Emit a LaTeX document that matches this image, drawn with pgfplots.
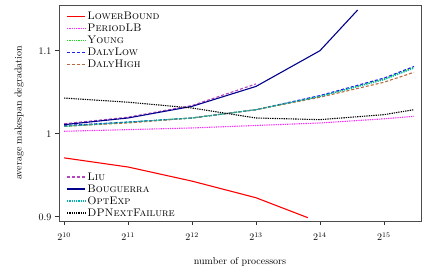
\documentclass[border=0pt]{standalone}
\usepackage{pgfplots}
\pgfplotsset{compat=1.18}
\definecolor{cRed}{RGB}{255,0,0}
\definecolor{cMag}{RGB}{255,40,255}
\definecolor{cGreen}{RGB}{30,220,30}
\definecolor{cBlue}{RGB}{30,30,240}
\definecolor{cBrown}{RGB}{185,105,60}
\definecolor{cLiu}{RGB}{180,70,190}
\definecolor{cNavy}{RGB}{0,0,140}
\definecolor{cTeal}{RGB}{0,180,180}
\pgfplotsset{
  dots/.style={dash pattern=on 1.3pt off 1pt},
  common/.style={
    at={(59pt,53pt)}, anchor=south west,
    width=362pt, height=216pt, scale only axis,
    xmin=9.92, xmax=15.58, ymin=0.895, ymax=1.155,
    legend cell align=left,
    legend style={draw=none, fill=none, font=\fontsize{11}{13}\selectfont,
      text=black, row sep=0.5pt, inner sep=1pt,
      nodes={text height=7.5pt, text depth=1pt, inner sep=1.5pt}},
    legend image code/.code={\draw[##1, line width=1.1pt] (0cm,0cm) -- (0.65cm,0cm);},
  }
}
\begin{document}
\begin{tikzpicture}
\useasboundingbox (0,0) rectangle (429pt,274pt);
\begin{axis}[common,
  axis line style={draw=black!70, line width=0.8pt},
  tick align=outside, tick style={black!80, line width=0.8pt},
  major tick length=4pt,
  xtick={10,11,12,13,14,15},
  xticklabels={$2^{10}$,$2^{11}$,$2^{12}$,$2^{13}$,$2^{14}$,$2^{15}$},
  ytick={0.9,1,1.1},
  yticklabels={0.9,1,1.1},
  xtick pos=bottom, ytick pos=left,
  tick label style={font=\normalsize},
  xticklabel style={yshift=-4pt},
  xlabel={number of processors},
  ylabel={average makespan degradation},
  label style={font=\normalsize},
  xlabel style={at={(axis description cs:0.5,-0.19)}, anchor=center},
  ylabel style={at={(axis description cs:-0.11,0.5)}, anchor=center},
  legend style={at={(axis description cs:0.017,0.981)}, anchor=north west},
]
\addplot[draw=cRed, line width=1.1pt] coordinates {(10,0.971) (11,0.960) (12,0.943) (13,0.923) (13.81,0.899)};
\addlegendentry{\textsc{LowerBound}}
\addplot[draw=cMag, line width=1.1pt, dots] coordinates {(10,1.003) (11,1.005) (12,1.007) (13,1.010) (14,1.013) (15,1.018) (15.47,1.021)};
\addlegendentry{\textsc{PeriodLB}}
\addplot[draw=cGreen, line width=1.1pt, dots] coordinates {(10,1.009) (11,1.014) (12,1.019) (13,1.029) (14,1.045) (15,1.066) (15.47,1.080)};
\addlegendentry{\textsc{Young}}
\addplot[draw=cBlue, line width=1.1pt, densely dashed] coordinates {(10,1.010) (11,1.014) (12,1.019) (13,1.029) (14,1.046) (15,1.067) (15.47,1.081)};
\addlegendentry{\textsc{DalyLow}}
\addplot[draw=cBrown, line width=1.1pt, densely dashed] coordinates {(10,1.009) (11,1.013) (12,1.019) (13,1.029) (14,1.044) (15,1.062) (15.47,1.074)};
\addlegendentry{\textsc{DalyHigh}}
\end{axis}
\begin{axis}[common, axis lines=none, ticks=none,
  legend style={at={(axis description cs:0.017,0.005)}, anchor=south west},
]
\addplot[draw=cLiu, line width=1.1pt, densely dashed] coordinates {(10,1.012) (11,1.020) (12,1.034) (13,1.060)};
\addlegendentry{\textsc{Liu}}
\addplot[draw=cNavy, line width=1.1pt] coordinates {(10,1.011) (11,1.019) (12,1.033) (13,1.057) (14,1.100) (14.59,1.149)};
\addlegendentry{\textsc{Bouguerra}}
\addplot[draw=cTeal, line width=1.1pt, dots] coordinates {(10,1.009) (11,1.014) (12,1.019) (13,1.029) (14,1.045) (15,1.065) (15.47,1.079)};
\addlegendentry{\textsc{OptExp}}
\addplot[draw=black, line width=1.1pt, dots] coordinates {(10,1.043) (11,1.038) (12,1.031) (13,1.019) (14,1.017) (15,1.023) (15.47,1.029)};
\addlegendentry{\textsc{DPNextFailure}}
\end{axis}
\end{tikzpicture}
\end{document}
